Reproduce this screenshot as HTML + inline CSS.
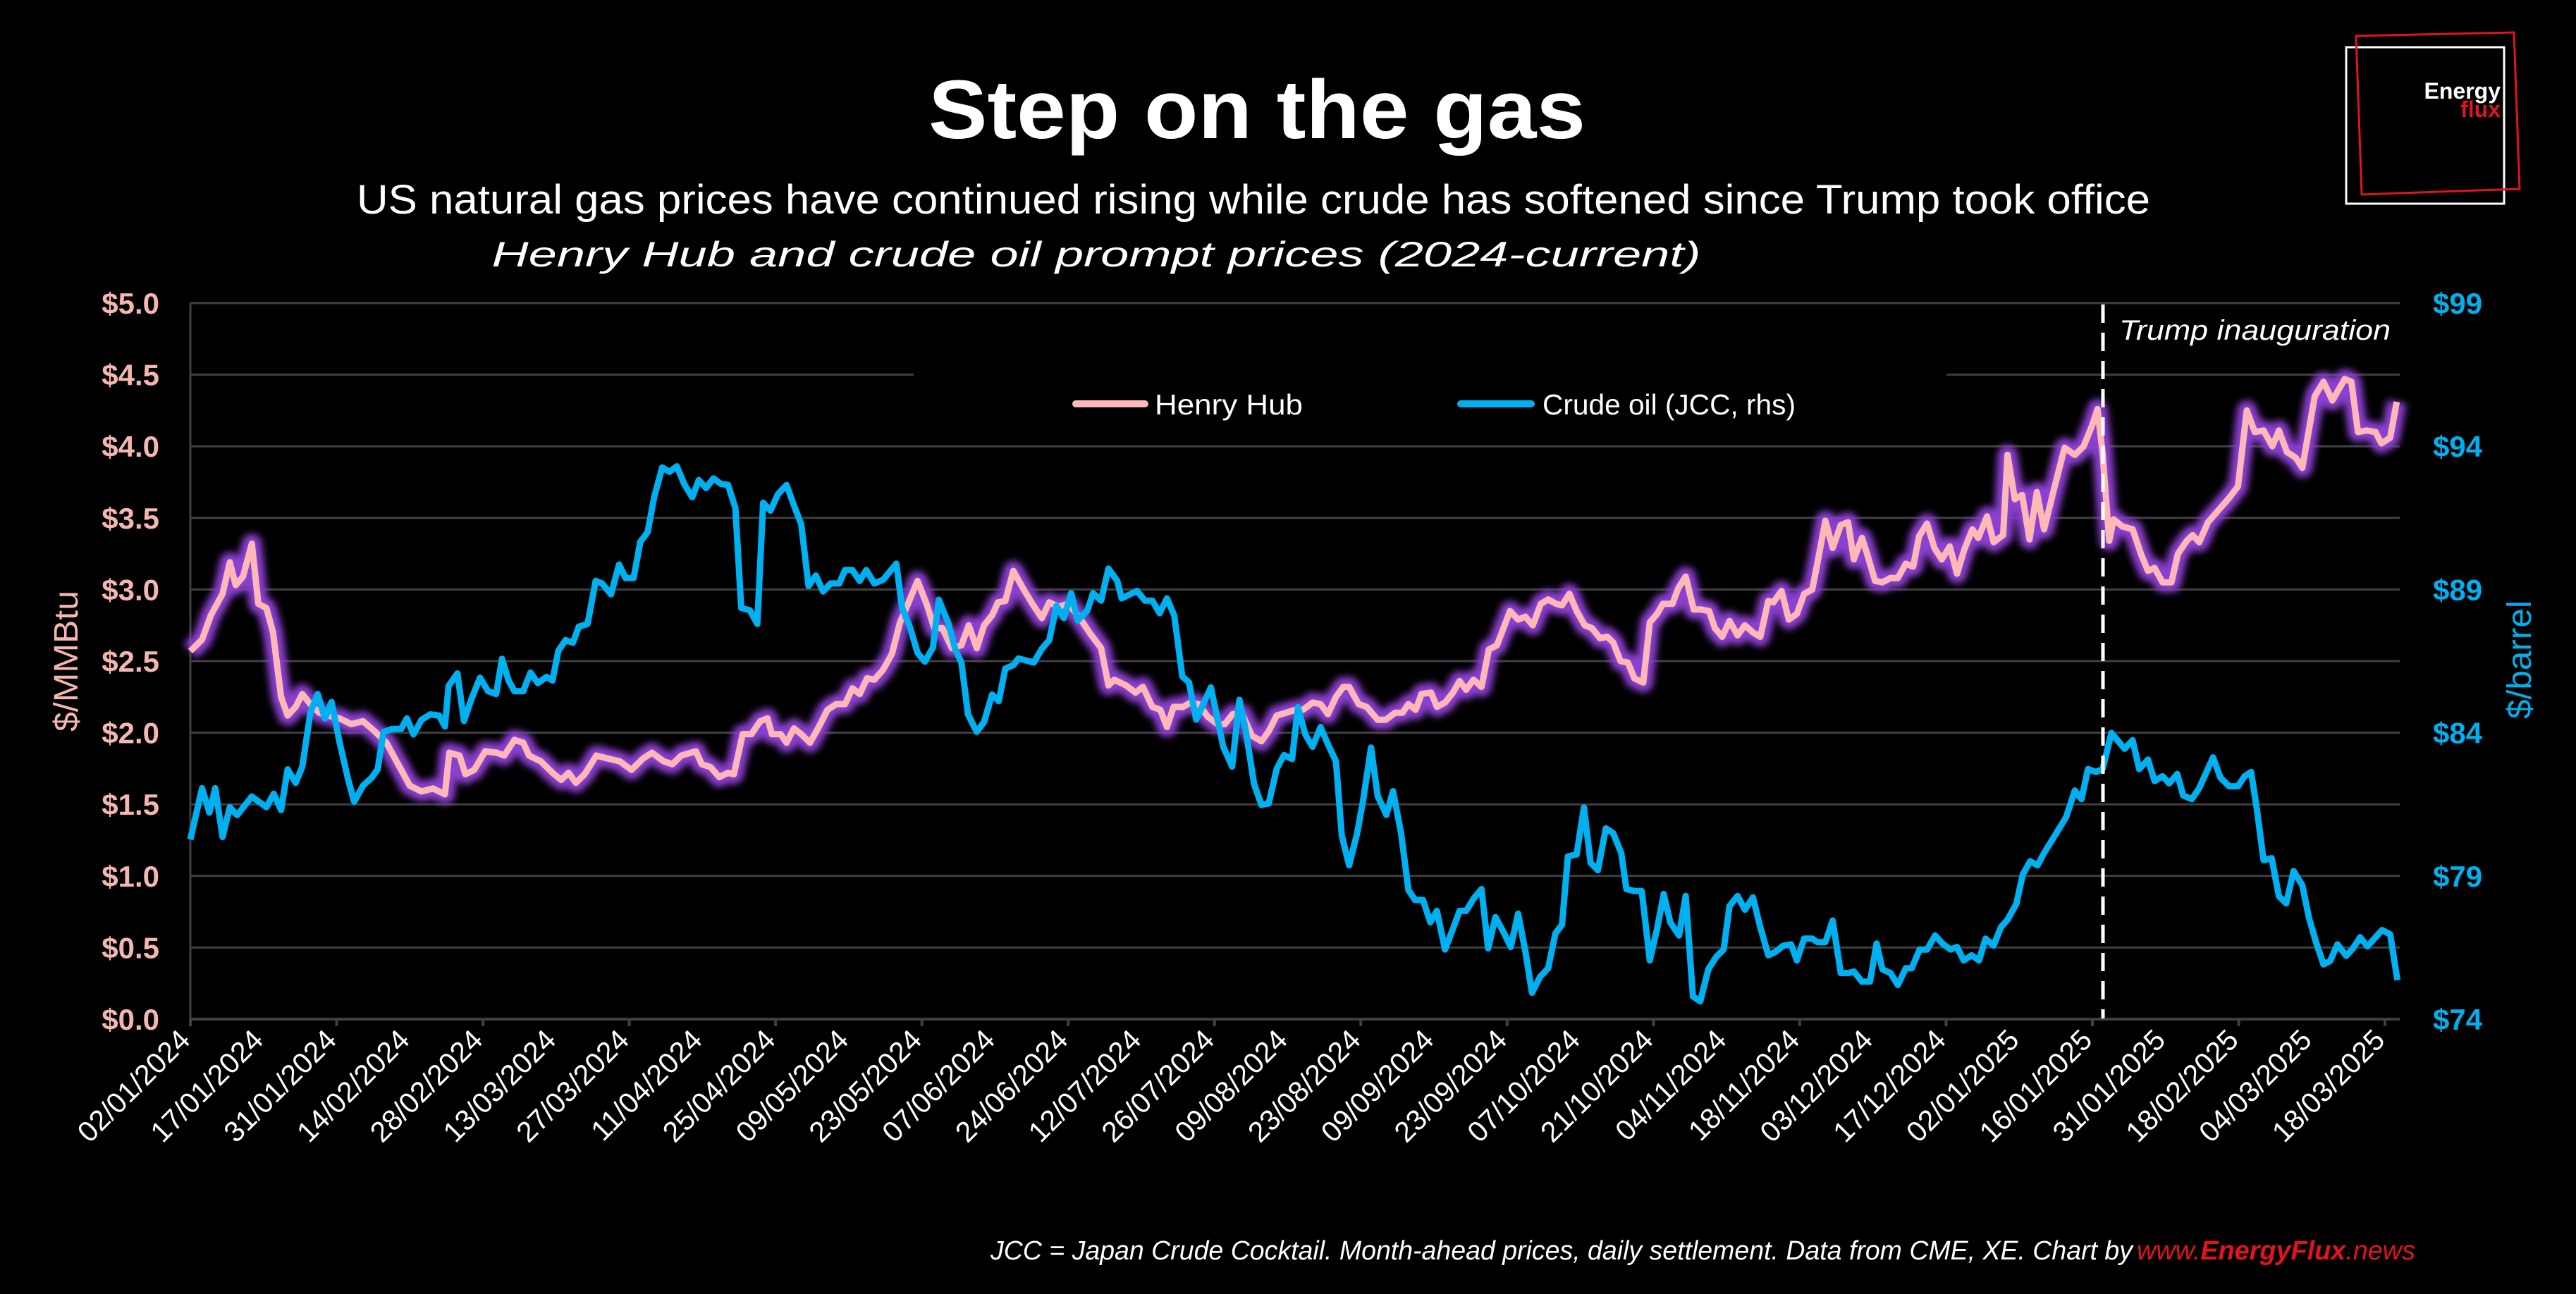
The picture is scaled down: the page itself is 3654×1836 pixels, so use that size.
<!DOCTYPE html>
<html><head><meta charset="utf-8"><style>
html,body{margin:0;padding:0;background:#000;}
svg{display:block;}
</style></head><body>
<svg id="chart" width="3654" height="1836" viewBox="0 0 3654 1836" xmlns="http://www.w3.org/2000/svg">
<defs><filter id="glow" x="-5%" y="-20%" width="110%" height="140%"><feGaussianBlur stdDeviation="5"/></filter></defs>
<rect width="3654" height="1836" fill="#000"/>
<text x="1783" y="196" text-anchor="middle" fill="#fff" font-family="Liberation Sans, sans-serif" font-weight="bold" font-size="118" textLength="932" lengthAdjust="spacingAndGlyphs">Step on the gas</text>
<text x="1778" y="303" text-anchor="middle" fill="#fff" font-family="Liberation Sans, sans-serif" font-size="58" textLength="2544" lengthAdjust="spacingAndGlyphs">US natural gas prices have continued rising while crude has softened since Trump took office</text>
<text x="1555" y="378" text-anchor="middle" fill="#fff" font-family="Liberation Sans, sans-serif" font-style="italic" font-size="50" textLength="1715" lengthAdjust="spacingAndGlyphs">Henry Hub and crude oil prompt prices (2024-current)</text>
<g id="grid"></g>
<rect x="1296" y="505" width="1465" height="60" fill="#000"/>
<g id="axes"></g>
<g id="series"></g>
<g>
<g>
<line x1="1526" y1="573" x2="1624" y2="573" stroke="#ffb8b8" stroke-width="10" stroke-linecap="round"/>
<text x="1638" y="588" fill="#fff" font-family="Liberation Sans, sans-serif" font-size="41" textLength="210" lengthAdjust="spacingAndGlyphs">Henry Hub</text>
</g>
<g>
<line x1="2072" y1="573" x2="2172" y2="573" stroke="#00b0f0" stroke-width="10" stroke-linecap="round"/>
<text x="2188" y="588" fill="#fff" font-family="Liberation Sans, sans-serif" font-size="41" textLength="359" lengthAdjust="spacingAndGlyphs">Crude oil (JCC, rhs)</text>
</g>
</g>
<line x1="2983" y1="432" x2="2983" y2="1445" stroke="#fff" stroke-width="5" stroke-dasharray="26,14"/>
<text x="3006" y="482" fill="#fff" font-family="Liberation Sans, sans-serif" font-style="italic" font-size="40" textLength="385" lengthAdjust="spacingAndGlyphs">Trump inauguration</text>
<text transform="translate(110,938) rotate(-90)" text-anchor="middle" fill="#f4b6b0" font-family="Liberation Sans, sans-serif" font-size="48" textLength="200" lengthAdjust="spacingAndGlyphs">$/MMBtu</text>
<text transform="translate(3590,936) rotate(-90)" text-anchor="middle" fill="#00b0f0" font-family="Liberation Sans, sans-serif" font-size="48" textLength="168" lengthAdjust="spacingAndGlyphs">$/barrel</text>
<g>
<rect x="3328" y="67" width="224" height="222" fill="none" stroke="#fff" stroke-width="3"/>
<polygon points="3342,51 3566,46 3574,268 3350,276" fill="none" stroke="#e0141e" stroke-width="3"/>
<text x="3547" y="140" text-anchor="end" fill="#fff" font-family="Liberation Sans, sans-serif" font-weight="bold" font-size="32">Energy</text>
<text x="3547" y="166" text-anchor="end" fill="#e0141e" font-family="Liberation Sans, sans-serif" font-weight="bold" font-size="32">flux</text>
</g>
<text y="1787" fill="#fff" font-family="Liberation Sans, sans-serif" font-style="italic" font-size="38"><tspan x="1405" textLength="1620" lengthAdjust="spacingAndGlyphs">JCC = Japan Crude Cocktail. Month-ahead prices, daily settlement. Data from CME, XE. Chart by</tspan><tspan x="3031" fill="#e0141e" textLength="395" lengthAdjust="spacingAndGlyphs">www.<tspan font-weight="bold">EnergyFlux</tspan>.news</tspan></text>
</svg>
<script>
const gasLeftTicks = ["$0.0","$0.5","$1.0","$1.5","$2.0","$2.5","$3.0","$3.5","$4.0","$4.5","$5.0"];
const gasTickValues = [0,0.5,1,1.5,2,2.5,3,3.5,4,4.5,5];
const oilTicks = ["$74","$79","$84","$89","$94","$99"];
const oilTickValues = [74,79,84,89,94,99];
const dateLabels = ["02/01/2024","17/01/2024","31/01/2024","14/02/2024","28/02/2024","13/03/2024","27/03/2024","11/04/2024","25/04/2024","09/05/2024","23/05/2024","07/06/2024","24/06/2024","12/07/2024","26/07/2024","09/08/2024","23/08/2024","09/09/2024","23/09/2024","07/10/2024","21/10/2024","04/11/2024","18/11/2024","03/12/2024","17/12/2024","02/01/2025","16/01/2025","31/01/2025","18/02/2025","04/03/2025","18/03/2025"];
const gasDay = [0,1.6,2.8,4.4,5.4,6.2,7.2,8.4,9.3,10.4,11.3,12.4,13.3,14.4,15.3,16.4,17.6,18.8,20.4,22.0,23.6,25.2,26.8,28.4,30.0,31.6,33.2,34.8,35.4,36.8,37.6,38.8,40.3,41.9,42.9,44.3,45.5,46.3,47.9,49.5,50.7,51.7,52.7,53.9,55.5,57.1,58.7,60.3,61.9,63.1,64.7,65.9,67.1,69.1,69.9,71.1,72.3,73.5,74.3,75.5,76.7,77.9,78.9,79.5,80.7,81.5,82.5,83.5,84.7,85.9,87.1,88.3,89.5,90.5,91.5,92.5,93.5,94.7,95.9,
97,98.1,99.4,100.7,101.7,102.8,104.1,105.4,106.4,107.5,108.5,109.6,110.4,111.4,112.5,113.8,115.1,116.4,117.4,118.7,120,121.6,122.9,124.5,125.5,126.3,127.9,129.2,130.2,131.5,132.6,133.5,134.4,135.7,136.7,137.8,139.1,140.4,141.4,142.5,143.8,145.1,146.4,147.4,148.5,149.8,151.1,152.1,153.4,154.5,155.5,156.6,157.6,158.4,159.7,160.8,162.3,163.4,164.7,165.7,166.5,167.5,168.3,169.6,170.4,
171.5,172.6,173.5,174.4,175.4,176.5,177.5,178.6,180.4,181.5,182.5,183.5,184.6,185.6,186.7,187.5,188.5,189.5,190.6,191.6,192.7,193.7,194.5,195.5,196.5,197.4,198.6,199.5,200.5,201.3,202.6,203.4,204.4,205.5,206.5,207.6,208.4,209.4,210.4,211.5,212.5,213.6,214.6,215.7,216.4,217.5,218.5,219.6,220.6,221.7,222.4,223.5,224.5,225.6,226.6,227.4,228.5,229.2,230.3,231.3,232.4,233.4,234.5,235.5,236.3,237.4,238.4,239.4,240.5,241.5,242.5,243.6,244.4,245.6,246.5,247.8,248.4,249.4,250.4,251.4,252.4,253.4,
254.7,256.2,257.6,258.8,260,260.7,261.4,262.3,262.9,264.1,265.5,266.7,267.6,268.5,269.6,270.8,271.7,272.9,273.7,274.6,275.8,277,278.7,279.9,281.1,282.2,283.4,284.6,285.5,286.6,287.8,288.7,290.4,291.6,292.8,294.5,295.4,296.3,297.5,298.7,299.5,300.7,301.6];
const gasValue = [2.57,2.65,2.82,2.97,3.19,3.03,3.09,3.32,2.90,2.87,2.70,2.25,2.12,2.18,2.27,2.20,2.14,2.12,2.10,2.06,2.08,2.01,1.93,1.78,1.63,1.59,1.61,1.57,1.86,1.84,1.71,1.74,1.87,1.86,1.84,1.95,1.93,1.84,1.80,1.72,1.67,1.72,1.65,1.71,1.84,1.82,1.80,1.74,1.82,1.86,1.80,1.78,1.84,1.87,1.78,1.76,1.69,1.72,1.71,1.99,1.99,2.08,2.10,1.99,1.99,1.93,2.03,1.99,1.93,2.04,2.16,2.20,2.20,2.31,2.27,2.38,2.37,2.44,2.55,
2.77,2.90,3.06,2.89,2.73,2.73,2.59,2.61,2.75,2.59,2.75,2.82,2.91,2.92,3.13,3.01,2.90,2.80,2.91,2.88,2.90,2.80,2.70,2.59,2.33,2.37,2.33,2.28,2.32,2.18,2.16,2.04,2.18,2.18,2.21,2.20,2.11,2.06,2.06,2.13,2.13,1.98,1.94,2.01,2.12,2.14,2.16,2.16,2.21,2.20,2.13,2.25,2.32,2.32,2.20,2.18,2.09,2.09,2.14,2.14,2.20,2.16,2.27,2.28,2.18,
2.21,2.28,2.36,2.30,2.37,2.32,2.58,2.61,2.85,2.79,2.81,2.75,2.90,2.93,2.90,2.89,2.97,2.85,2.75,2.73,2.66,2.67,2.63,2.50,2.49,2.38,2.35,2.77,2.83,2.90,2.90,3.01,3.09,2.86,2.86,2.85,2.73,2.67,2.78,2.68,2.75,2.70,2.67,2.92,2.91,2.99,2.79,2.83,2.97,3.00,3.18,3.48,3.29,3.45,3.47,3.21,3.36,3.25,3.06,3.05,3.08,3.08,3.18,3.16,3.37,3.46,3.29,3.21,3.30,3.11,3.28,3.42,3.36,3.51,3.33,3.38,3.94,3.63,3.66,3.35,3.68,3.42,
3.69,3.99,3.94,4.00,4.15,4.26,3.95,3.34,3.49,3.44,3.42,3.24,3.13,3.15,3.05,3.05,3.25,3.34,3.38,3.33,3.47,3.54,3.64,3.72,4.25,4.10,4.11,4.00,4.11,3.96,3.92,3.85,4.35,4.45,4.32,4.47,4.45,4.10,4.11,4.10,4.02,4.06,4.31];
const oilDay = [0,1.6,2.6,3.4,4.4,5.4,6.4,8.4,10.4,11.4,12.4,13.3,14.4,15.3,16.4,17.4,18.4,19.3,20.4,21.6,22.4,23.6,24.8,25.6,26.4,27.6,28.8,29.6,30.5,31.6,32.8,34.0,34.8,35.3,36.5,37.4,38.4,39.6,40.7,41.8,42.6,43.5,44.3,45.5,46.5,47.5,48.7,49.5,50.3,51.3,52.3,53.1,54.3,55.4,56.3,57.5,58.6,59.5,60.6,61.5,62.5,63.4,64.5,65.5,66.5,67.5,68.6,69.5,70.5,71.5,72.5,73.5,74.5,75.3,76.5,77.5,78.3,79.3,80.3,81.5,82.5,83.5,84.5,85.5,86.5,87.5,88.7,89.5,90.5,91.5,92.4,93.5,94.7,
96.5,97.3,98.4,99.4,100.4,101.5,102.3,103.6,104.6,105.4,106.3,107.5,108.5,109.6,110.5,111.4,112.5,113.2,115.3,116.4,117.4,118.4,119.4,120.4,121.3,122.6,123.4,124.5,125.5,126.7,127.3,129.4,130.5,131.5,132.5,133.5,134.5,135.6,136.5,137.5,139.5,141.2,142.4,143.4,144.3,145.4,146.4,147.4,148.5,149.5,150.6,151.4,152.4,153.4,154.5,155.5,156.6,157.4,158.4,159.5,160.3,161.4,162.3,163.5,164.4,165.5,166.5,167.4,168.5,169.5,170.4,
171.5,172.6,173.5,174.4,175.4,176.5,177.4,178.4,179.6,180.5,181.5,182.5,183.4,184.5,185.6,186.6,187.5,188.3,189.5,190.5,191.4,192.4,193.5,194.5,195.6,196.3,197.4,198.4,199.5,200.5,201.4,202.3,203.5,204.4,205.4,206.4,207.5,208.6,209.6,210.4,211.5,212.5,213.6,214.6,215.7,216.7,217.7,218.8,219.6,220.6,221.7,222.4,223.5,224.5,225.6,226.6,227.4,228.5,229.6,230.5,231.3,232.4,233.4,234.5,235.3,236.4,237.4,238.5,239.5,240.6,241.5,242.4,243.5,244.5,245.4,246.5,247.5,248.4,249.6,250.5,251.5,252.5,253.4,
256.4,257.6,258.5,259.4,260.5,261.4,262.6,264.4,265.5,266.4,267.6,268.5,269.6,270.5,271.6,272.4,273.6,274.6,276.5,277.5,278.7,279.9,280.8,281.7,282.5,283.4,284.5,285.5,286.5,287.5,288.7,289.6,290.6,291.6,292.5,293.5,294.7,295.6,296.6,297.6,298.7,299.6,300.7,301.7];
const oilValue = [80.27,82.06,81.21,82.06,80.36,81.40,81.12,81.77,81.40,81.87,81.30,82.72,82.25,82.81,84.69,85.35,84.50,85.07,83.66,82.34,81.59,82.15,82.43,82.72,84.03,84.13,84.13,84.50,83.94,84.45,84.64,84.60,84.22,85.63,86.07,84.41,85.16,85.92,85.45,85.35,86.58,85.82,85.45,85.45,86.10,85.73,85.95,85.82,86.86,87.23,87.14,87.70,87.80,89.30,89.21,88.83,89.87,89.40,89.40,90.66,91.00,92.22,93.26,93.11,93.30,92.69,92.22,92.82,92.54,92.88,92.69,92.65,91.85,88.36,88.27,87.80,92.03,91.75,92.32,92.65,91.94,91.28,89.12,89.49,88.93,89.21,89.21,89.68,89.68,89.30,89.68,89.21,89.34,
89.90,88.35,87.66,86.79,86.48,86.97,88.64,87.83,86.88,86.45,84.64,84.03,84.38,85.33,85.10,86.24,86.36,86.59,86.45,86.93,87.23,88.43,88.00,88.87,87.92,88.26,88.87,88.61,89.73,89.30,88.69,88.95,88.61,88.61,88.17,88.69,88.09,85.96,85.76,84.46,85.58,83.51,82.82,85.15,84.03,82.22,81.48,81.53,82.74,83.22,83.08,84.89,83.94,83.51,84.20,83.60,83.00,80.41,79.37,80.49,81.61,83.48,81.79,81.13,81.96,80.49,78.51,78.16,78.16,77.38,77.78,
76.43,77.16,77.78,77.78,78.20,78.54,76.47,77.56,76.99,76.52,77.68,76.35,74.92,75.48,75.78,76.99,77.30,79.68,79.75,81.39,79.46,79.20,80.66,80.49,79.80,78.54,78.47,78.47,76.05,77.16,78.37,77.38,76.92,78.30,74.79,74.62,75.74,76.18,76.43,77.95,78.30,77.82,78.25,77.21,76.23,76.35,76.56,76.61,76.05,76.81,76.81,76.69,76.69,77.44,75.61,75.61,75.66,75.31,75.31,76.64,75.74,75.61,75.19,75.78,75.78,76.43,76.43,76.92,76.64,76.43,76.52,76.05,76.23,76.05,76.81,76.57,77.21,77.47,78.02,79.06,79.51,79.37,79.80,
81.05,81.98,81.68,82.73,82.63,82.73,83.99,83.44,83.74,82.73,83.06,82.31,82.48,82.23,82.56,81.81,81.68,82.06,83.14,82.43,82.13,82.13,82.48,82.63,81.30,79.55,79.62,78.29,78.04,79.17,78.67,77.54,76.66,75.91,76.03,76.61,76.21,76.46,76.86,76.54,76.86,77.11,76.96,75.36];

const NS = "http://www.w3.org/2000/svg";
const X0 = 270, X1 = 3404, DAYPX = 10.377, Y0 = 1446, Y1 = 430;
function xScale(d){ return X0 + d*DAYPX; }
function yGas(v){ return Y0 - (v/5)*(Y0-Y1); }
function yOil(v){ return Y0 - ((v-74)/25)*(Y0-Y1); }
function mk(tag, attrs, parent){ const e=document.createElementNS(NS,tag); for(const k in attrs) e.setAttribute(k,attrs[k]); parent.appendChild(e); return e; }

const grid = document.getElementById('grid');
gasTickValues.forEach((v,i)=>{
  if(v===0) return;
  const ln = mk('line',{x1:X0,x2:X1,y1:yGas(v),y2:yGas(v),stroke:'#404040','stroke-width':3},grid);
  
  
});
const axes = document.getElementById('axes');
const xa = mk('line',{x1:X0,x2:X1,y1:Y0,y2:Y0,stroke:'#404040','stroke-width':4},axes);


const ya = mk('line',{x1:X0,x2:X0,y1:Y1,y2:Y0,stroke:'#404040','stroke-width':3},axes);


gasTickValues.forEach((v,i)=>{
  const t = mk('text',{x:226,y:yGas(v)+15,'text-anchor':'end',fill:'#f4b6b0','font-family':'Liberation Sans, sans-serif','font-weight':'bold','font-size':42},axes);
  t.textContent = gasLeftTicks[i];
  
  
});
oilTickValues.forEach((v,i)=>{
  const t = mk('text',{x:3451,y:yOil(v)+15,fill:'#00b0f0','font-family':'Liberation Sans, sans-serif','font-weight':'bold','font-size':42},axes);
  t.textContent = oilTicks[i];
  
  
});
dateLabels.forEach((s,i)=>{
  const d = i*10, x = xScale(d);
  if(i%2===0){
    const tk = mk('line',{x1:x,x2:x,y1:Y0,y2:Y0+10,stroke:'#404040','stroke-width':4},axes);
    
    
  }
  const t = mk('text',{transform:`translate(${x+2},${Y0+32}) rotate(-45)`,'text-anchor':'end',fill:'#fff','font-family':'Liberation Sans, sans-serif','font-size':41},axes);
  t.textContent = s;
  
  
});

const series = document.getElementById('series');
const gasPts = gasDay.map((d,i)=>xScale(d).toFixed(1)+','+yGas(gasValue[i]).toFixed(1)).join(' ');
const oilPts = oilDay.map((d,i)=>xScale(d).toFixed(1)+','+yOil(oilValue[i]).toFixed(1)).join(' ');
const glow = mk('polyline',{points:gasPts,fill:'none',stroke:'#8a3fd0','stroke-width':28,'stroke-linejoin':'round',filter:'url(#glow)',opacity:1},series);


const gasLine = mk('polyline',{points:gasPts,fill:'none',stroke:'#ffb8b8','stroke-width':9,'stroke-linejoin':'round'},series);


const oilLine = mk('polyline',{points:oilPts,fill:'none',stroke:'#00b0f0','stroke-width':9,'stroke-linejoin':'round'},series);


</script>
</body></html>
